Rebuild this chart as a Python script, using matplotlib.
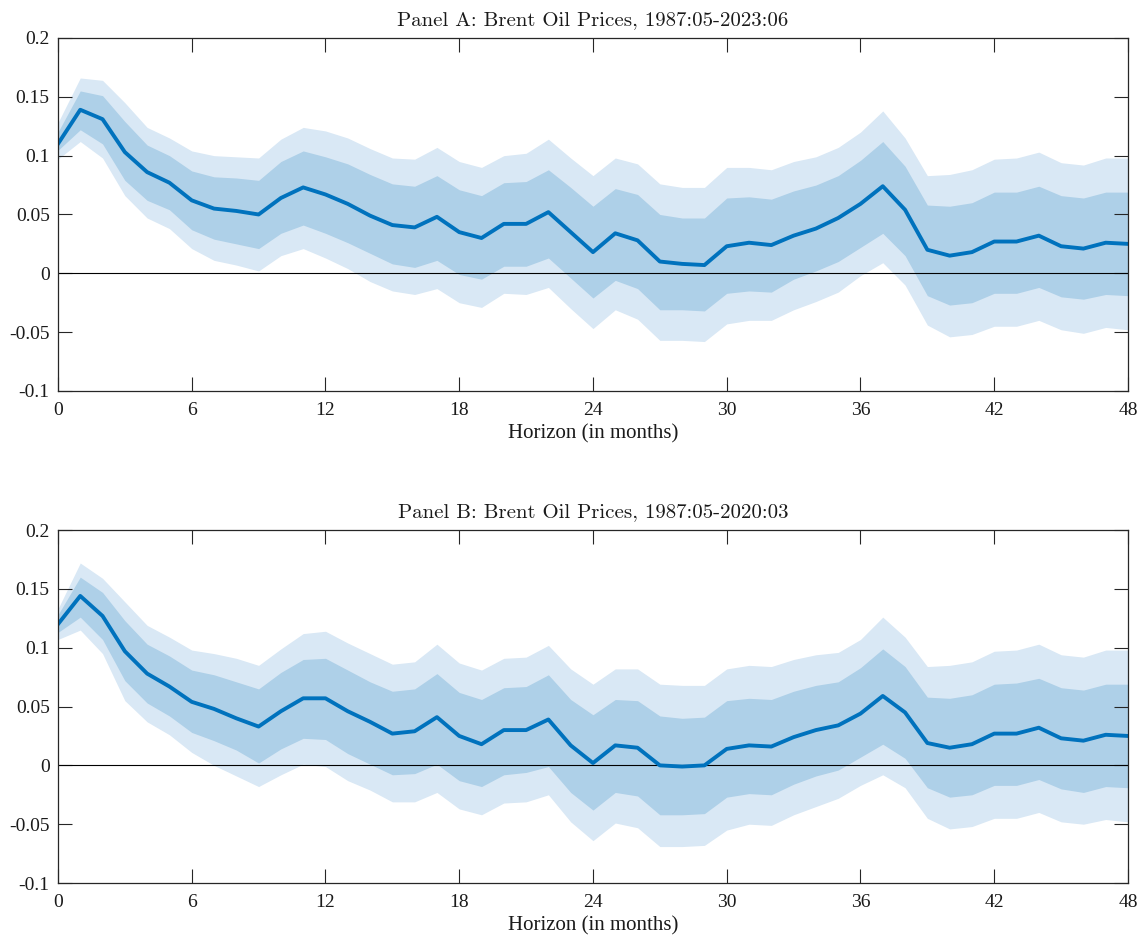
import numpy as np
import matplotlib
matplotlib.use("Agg")
import matplotlib.pyplot as plt

horizon = np.arange(49)

# Panel A: Brent, 1987:05-2023:06
a_med = [0.110, 0.139, 0.131, 0.103, 0.086, 0.077, 0.062, 0.055, 0.053, 0.050,
         0.064, 0.073, 0.067, 0.059, 0.049, 0.041, 0.039, 0.048, 0.035, 0.030,
         0.042, 0.042, 0.052, 0.035, 0.018, 0.034, 0.028, 0.010, 0.008, 0.007,
         0.023, 0.026, 0.024, 0.032, 0.038, 0.047, 0.059, 0.074, 0.054, 0.020,
         0.015, 0.018, 0.027, 0.027, 0.032, 0.023, 0.021, 0.026, 0.025]
a_hi68 = [0.120, 0.155, 0.151, 0.129, 0.109, 0.100, 0.087, 0.082, 0.081, 0.079,
          0.095, 0.104, 0.099, 0.093, 0.084, 0.076, 0.074, 0.083, 0.071, 0.066,
          0.077, 0.078, 0.088, 0.073, 0.057, 0.072, 0.067, 0.050, 0.047, 0.047,
          0.064, 0.065, 0.063, 0.070, 0.075, 0.083, 0.096, 0.112, 0.091, 0.058,
          0.057, 0.060, 0.069, 0.069, 0.074, 0.066, 0.064, 0.069, 0.069]
a_lo68 = [0.1045, 0.122, 0.110, 0.079, 0.062, 0.054, 0.037, 0.029, 0.025, 0.021,
          0.034, 0.041, 0.034, 0.026, 0.017, 0.008, 0.005, 0.011, -0.001, -0.005,
          0.006, 0.006, 0.013, -0.004, -0.021, -0.006, -0.013, -0.031, -0.031, -0.032,
          -0.017, -0.015, -0.016, -0.005, 0.002, 0.010, 0.022, 0.034, 0.015, -0.019,
          -0.027, -0.025, -0.017, -0.017, -0.012, -0.020, -0.022, -0.018, -0.019]
a_hi90 = [0.128, 0.166, 0.164, 0.145, 0.124, 0.115, 0.104, 0.100, 0.099, 0.098,
          0.114, 0.124, 0.121, 0.115, 0.106, 0.098, 0.097, 0.107, 0.095, 0.090,
          0.100, 0.102, 0.114, 0.098, 0.083, 0.098, 0.093, 0.076, 0.073, 0.073,
          0.090, 0.090, 0.088, 0.095, 0.099, 0.107, 0.120, 0.138, 0.115, 0.083,
          0.084, 0.088, 0.097, 0.098, 0.103, 0.094, 0.092, 0.098, 0.098]
a_lo90 = [0.097, 0.112, 0.098, 0.066, 0.047, 0.038, 0.021, 0.011, 0.007, 0.002,
          0.015, 0.021, 0.013, 0.004, -0.007, -0.015, -0.018, -0.013, -0.025, -0.029,
          -0.017, -0.018, -0.012, -0.030, -0.047, -0.031, -0.039, -0.057, -0.057, -0.058,
          -0.043, -0.040, -0.040, -0.031, -0.024, -0.016, -0.002, 0.009, -0.010, -0.044,
          -0.054, -0.052, -0.045, -0.045, -0.040, -0.048, -0.051, -0.046, -0.048]

# Panel B: Brent, 1987:05-2020:03
b_med = [0.120, 0.144, 0.127, 0.097, 0.078, 0.067, 0.054, 0.048, 0.040, 0.033,
         0.046, 0.057, 0.057, 0.046, 0.037, 0.027, 0.029, 0.041, 0.025, 0.018,
         0.030, 0.030, 0.039, 0.017, 0.002, 0.017, 0.015, 0.000, -0.001, 0.000,
         0.014, 0.017, 0.016, 0.024, 0.030, 0.034, 0.044, 0.059, 0.045, 0.019,
         0.015, 0.018, 0.027, 0.027, 0.032, 0.023, 0.021, 0.026, 0.025]
b_hi68 = [0.128, 0.160, 0.147, 0.123, 0.103, 0.093, 0.081, 0.077, 0.071, 0.065,
          0.079, 0.090, 0.091, 0.081, 0.071, 0.063, 0.065, 0.078, 0.062, 0.056,
          0.066, 0.067, 0.077, 0.056, 0.043, 0.056, 0.055, 0.042, 0.040, 0.041,
          0.055, 0.057, 0.056, 0.063, 0.068, 0.071, 0.083, 0.099, 0.084, 0.058,
          0.057, 0.060, 0.069, 0.070, 0.074, 0.066, 0.064, 0.069, 0.069]
b_lo68 = [0.113, 0.126, 0.107, 0.072, 0.053, 0.042, 0.028, 0.021, 0.013, 0.002,
          0.014, 0.023, 0.022, 0.010, 0.001, -0.008, -0.007, 0.001, -0.013, -0.018,
          -0.008, -0.006, -0.001, -0.023, -0.038, -0.023, -0.026, -0.042, -0.042, -0.041,
          -0.027, -0.024, -0.025, -0.016, -0.009, -0.004, 0.007, 0.018, 0.006, -0.019,
          -0.027, -0.025, -0.017, -0.017, -0.012, -0.020, -0.023, -0.018, -0.019]
b_hi90 = [0.133, 0.172, 0.159, 0.139, 0.119, 0.109, 0.098, 0.095, 0.091, 0.085,
          0.099, 0.112, 0.114, 0.104, 0.095, 0.086, 0.088, 0.103, 0.087, 0.081,
          0.091, 0.092, 0.102, 0.082, 0.069, 0.082, 0.082, 0.069, 0.068, 0.068,
          0.082, 0.085, 0.084, 0.090, 0.094, 0.096, 0.107, 0.126, 0.109, 0.084,
          0.085, 0.088, 0.097, 0.098, 0.103, 0.094, 0.092, 0.098, 0.098]
b_lo90 = [0.107, 0.115, 0.095, 0.055, 0.037, 0.026, 0.011, 0.000, -0.009, -0.018,
          -0.008, 0.001, -0.001, -0.013, -0.021, -0.031, -0.031, -0.023, -0.037, -0.042,
          -0.032, -0.031, -0.025, -0.048, -0.064, -0.049, -0.053, -0.069, -0.069, -0.068,
          -0.055, -0.050, -0.051, -0.042, -0.035, -0.028, -0.017, -0.008, -0.019, -0.045,
          -0.054, -0.052, -0.045, -0.045, -0.040, -0.048, -0.050, -0.046, -0.048]

titles = ["Panel A: Brent Oil Prices, 1987:05-2023:06",
          "Panel B: Brent Oil Prices, 1987:05-2020:03"]
xticks = np.arange(0, 49, 6)
yticks = [-0.1, -0.05, 0, 0.05, 0.1, 0.15, 0.2]
ytick_labels = ["-0.1", "-0.05", "0", "0.05", "0.1", "0.15", "0.2"]

LINE = "#0072BD"
DARK = "#AED0E8"
LIGHT = "#D9E8F5"
AXC = "#262626"

plt.rcParams["font.family"] = ["Liberation Serif", "DejaVu Serif"]

fig = plt.figure(figsize=(11.41, 9.38), dpi=100)
rects = [[0.0508, 0.5832, 0.9378, 0.3763], [0.0508, 0.0586, 0.9378, 0.3763]]
panels = [(a_med, a_lo68, a_hi68, a_lo90, a_hi90),
          (b_med, b_lo68, b_hi68, b_lo90, b_hi90)]

for rect, title, (med, lo68, hi68, lo90, hi90) in zip(rects, titles, panels):
    ax = fig.add_axes(rect)
    ax.fill_between(horizon, lo90, hi90, color=LIGHT, lw=0)
    ax.fill_between(horizon, lo68, hi68, color=DARK, lw=0)
    ax.axhline(0, color="black", lw=0.8)
    ax.plot(horizon, med, color=LINE, lw=2.8)
    ax.set_xlim(0, 48)
    ax.set_ylim(-0.1, 0.2)
    ax.set_xticks(xticks)
    ax.set_yticks(yticks)
    ax.set_yticklabels(ytick_labels)
    ax.tick_params(direction="in", length=10, width=0.8, color=AXC,
                   labelsize=14, labelcolor="#1a1a1a", top=True, right=True)
    ax.tick_params(axis="x", pad=8)
    ax.tick_params(axis="y", pad=6)
    for s in ax.spines.values():
        s.set_color(AXC)
        s.set_linewidth(0.9)
    ax.set_xlabel("Horizon (in months)", fontsize=15, color="#1a1a1a", labelpad=4)
    ax.set_title(title, family="cmr10", fontsize=15, color="#1a1a1a", pad=9)

fig.savefig("out.png", dpi=100)
